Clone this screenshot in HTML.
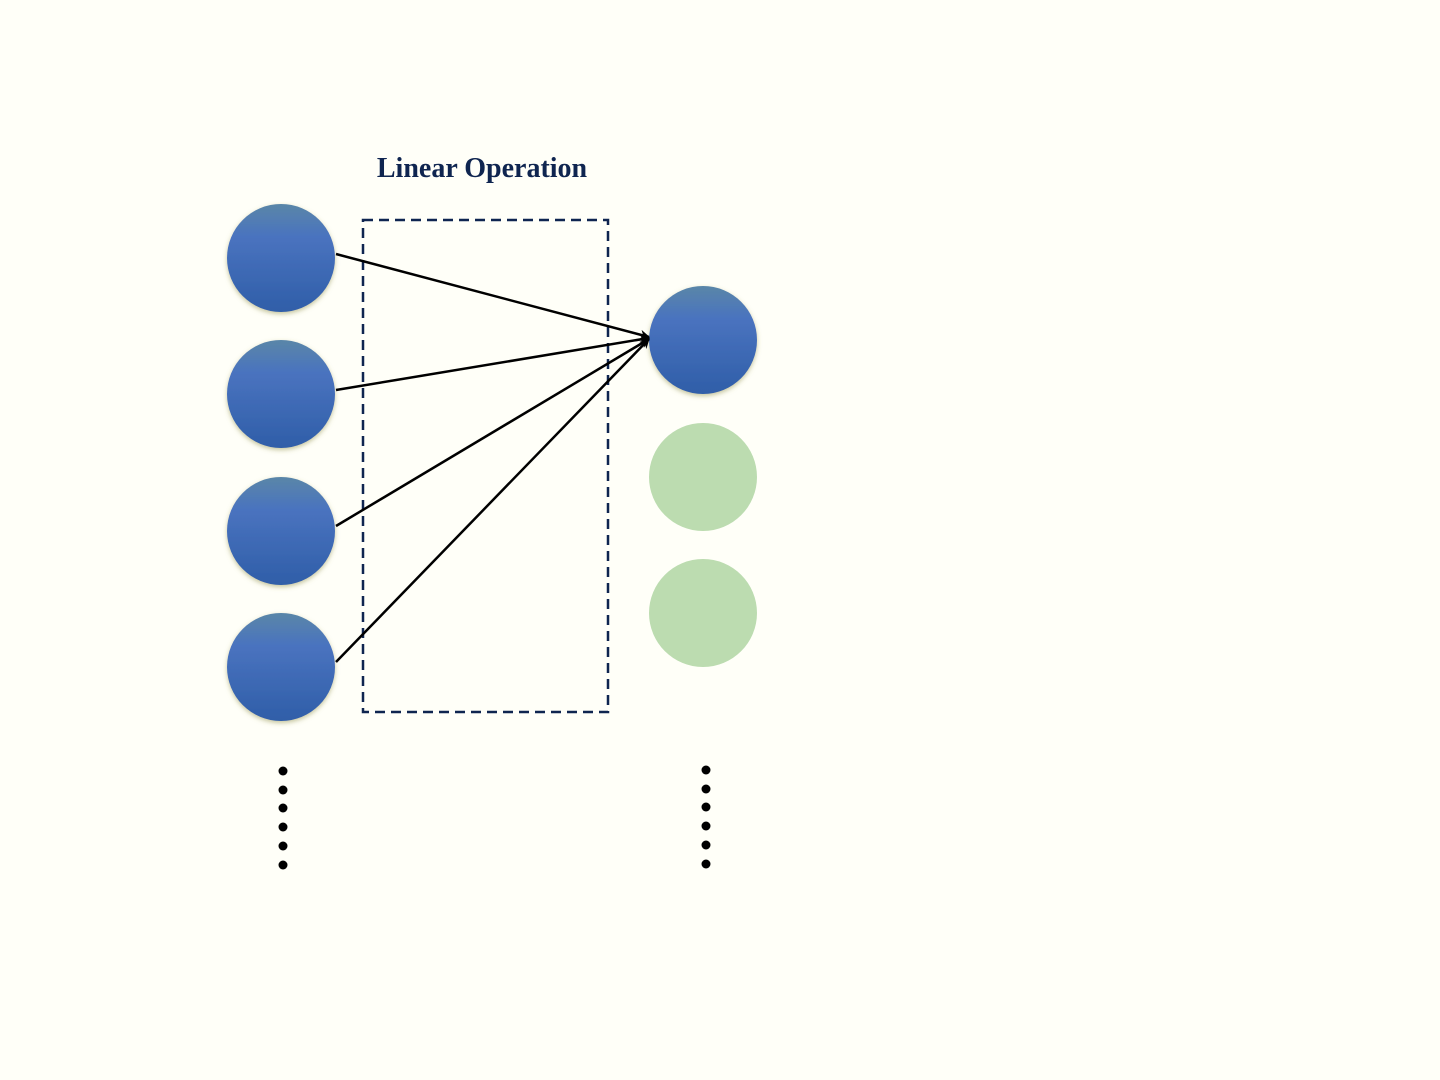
<!DOCTYPE html>
<html><head><style>
html,body{margin:0;padding:0;background:#fffff8;}
svg{display:block;}
</style></head><body>
<svg width="1440" height="1080" xmlns="http://www.w3.org/2000/svg">
<defs>
<linearGradient id="g" x1="0" y1="0" x2="0" y2="1">
<stop offset="0" stop-color="#5a86a8"/>
<stop offset="0.3" stop-color="#4a73bf"/>
<stop offset="1" stop-color="#2f5ea8"/>
</linearGradient>
<filter id="s" x="-20%" y="-20%" width="140%" height="140%">
<feDropShadow dx="0" dy="2" stdDeviation="2.5" flood-color="#8a8a40" flood-opacity="0.5"/>
</filter>
<marker id="a" markerWidth="10" markerHeight="10" refX="9" refY="5" orient="auto" markerUnits="userSpaceOnUse">
<path d="M0,0 L10,5 L0,10 L3,5 z" fill="#000"/>
</marker>
</defs>
<rect width="1440" height="1080" fill="#fffff8"/>
<text x="482" y="177" font-family="Liberation Serif, serif" font-weight="bold" font-size="28" fill="#0f2550" text-anchor="middle">Linear Operation</text>
<rect x="363" y="220" width="245" height="492" fill="none" stroke="#0f2550" stroke-width="2.5" stroke-dasharray="10,6"/>
<g filter="url(#s)" fill="url(#g)">
<circle cx="281" cy="258" r="54"/>
<circle cx="281" cy="394" r="54"/>
<circle cx="281" cy="531" r="54"/>
<circle cx="281" cy="667" r="54"/>
<circle cx="703" cy="340" r="54"/>
</g>
<circle cx="703" cy="477" r="54" fill="#bcdcb0"/>
<circle cx="703" cy="613" r="54" fill="#bcdcb0"/>
<g stroke="#000" stroke-width="2.5" marker-end="url(#a)">
<line x1="336" y1="254" x2="649" y2="337"/>
<line x1="336" y1="390" x2="649" y2="338"/>
<line x1="336" y1="526" x2="649" y2="339"/>
<line x1="336" y1="662" x2="649" y2="339"/>
</g>
<g fill="#000">
<circle cx="283" cy="771" r="4.5"/><circle cx="283" cy="790" r="4.5"/><circle cx="283" cy="808" r="4.5"/><circle cx="283" cy="827" r="4.5"/><circle cx="283" cy="846" r="4.5"/><circle cx="283" cy="865" r="4.5"/>
<circle cx="706" cy="770" r="4.5"/><circle cx="706" cy="789" r="4.5"/><circle cx="706" cy="807" r="4.5"/><circle cx="706" cy="826" r="4.5"/><circle cx="706" cy="845" r="4.5"/><circle cx="706" cy="864" r="4.5"/>
</g>
</svg>
</body></html>
